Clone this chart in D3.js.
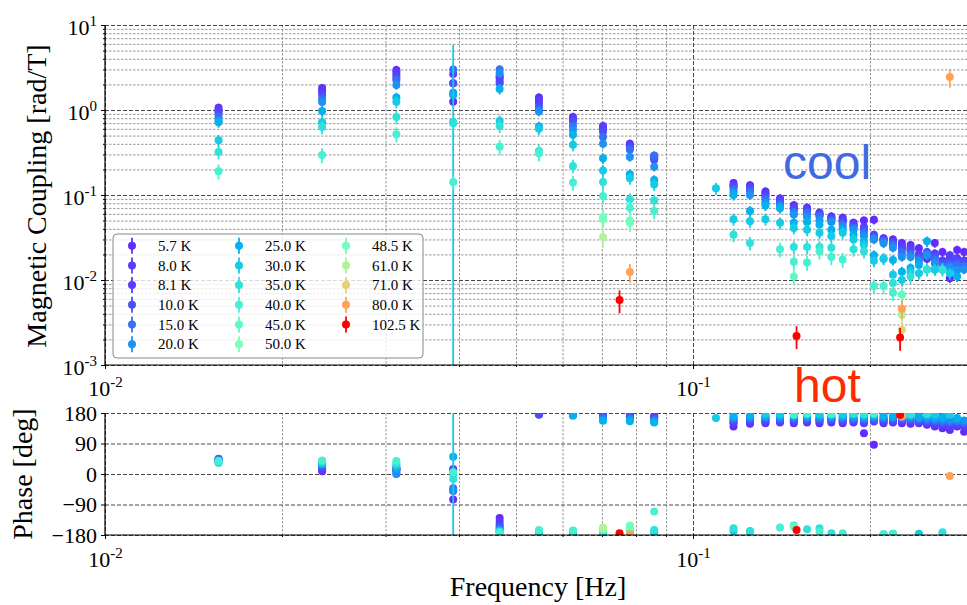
<!DOCTYPE html>
<html>
<head>
<meta charset="utf-8">
<script src="https://cdn.jsdelivr.net/npm/d3@7"></script>
<style>
  body { margin: 0; background: #fff; }
  svg { display: block; }
</style>
</head>
<body>
<svg id="chart" width="967" height="605"></svg>
<script>

// temperatures in legend order
var tempLabels = ["5.7 K", "8.0 K", "8.1 K", "10.0 K", "15.0 K", "20.0 K", "25.0 K", "30.0 K", "35.0 K",
  "40.0 K", "45.0 K", "50.0 K", "48.5 K", "61.0 K", "71.0 K", "80.0 K", "102.5 K"];
var tempValues = [5.7, 8.0, 8.1, 10.0, 15.0, 20.0, 25.0, 30.0, 35.0, 40.0, 45.0, 50.0, 48.5, 61.0, 71.0, 80.0, 102.5];

// relative error of the coupling and phase error [deg] per temperature
var magErrFrac = [0.12, 0.12, 0.12, 0.12, 0.12, 0.12, 0.14, 0.16, 0.18, 0.2, 0.22, 0.22, 0.22, 0.25, 0.25, 0.25, 0.3];
var phaseErr = [5, 5, 5, 5, 5, 5, 5, 6, 6, 7, 7, 7, 7, 8, 8, 8, 8];

// measured frequencies [Hz]
var freqs = [0.0156, 0.0234, 0.0313, 0.0391, 0.0469, 0.0547, 0.0625, 0.0703, 0.0781, 0.0859,
  0.1094, 0.1172, 0.125, 0.1328, 0.1406, 0.1484, 0.1563, 0.1641, 0.1719, 0.1797, 0.1875, 0.1953,
  0.2031, 0.2109, 0.2188, 0.2266, 0.2344, 0.2422, 0.25, 0.2578, 0.2656, 0.2734, 0.2813, 0.2891];

// magnetic coupling [rad/T]
var mag5_7 = [1.06, 1.81, 2.96, 1.25, 2.5, 1.40, 0.83, 0.60, 0.40, 0.27, null, 0.138, 0.13, 0.11, 0.091, 0.076, 0.071,
  0.062, 0.056, 0.054, 0.047, 0.050, 0.051, 0.031, 0.030, 0.0272, 0.0258, 0.0237, 0.0178, 0.0272, 0.0214, 0.0105, 0.0226, 0.0214];
var mag8_0 = [1.0, 1.7, 2.8, 2.07, 2.38, 1.30, 0.80, 0.62, 0.38, 0.28, null, 0.13, 0.125, 0.105, 0.088, 0.072, 0.068,
  0.060, 0.054, 0.051, 0.045, 0.042, 0.034, 0.030, 0.028, 0.025, 0.024, 0.020, 0.019, 0.0205, 0.017, 0.0196, 0.018, 0.017];
var mag8_1 = [0.97, 1.65, 2.58, 2.65, 2.2, 1.2, 0.78, 0.65, 0.37, 0.29, null, 0.128, 0.122, 0.10, 0.086, 0.070, 0.066,
  0.059, 0.053, 0.050, 0.044, 0.040, 0.033, 0.030, 0.027, 0.024, 0.023, 0.020, 0.020, 0.020, 0.016, 0.018, 0.017, 0.016];
var mag10 = [0.92, 1.5, 2.4, 2.07, 2.07, 1.09, 0.73, 0.555, 0.36, 0.26, null, 0.125, 0.12, 0.095, 0.083, 0.068, 0.064,
  0.058, 0.052, 0.048, 0.043, 0.039, 0.032, 0.029, 0.027, 0.023, 0.022, 0.0187, 0.0214, 0.019, 0.0157, 0.016, 0.0165, 0.016];
var mag15 = [0.83, 1.35, 2.25, 3.0, 3.0, 1.0, 0.65, 0.48, 0.34, 0.29, null, 0.115, 0.11, 0.088, 0.078, 0.063, 0.061,
  0.056, 0.050, 0.045, 0.041, 0.036, 0.031, 0.0285, 0.0258, 0.021, 0.020, 0.0175, 0.020, 0.0175, 0.0145, 0.015, 0.015, 0.0145];
var mag20 = [0.75, 1.24, 1.97, 1.6, 2.7, 0.96, 0.58, 0.40, 0.28, 0.215, null, 0.107, 0.10, 0.081, 0.073, 0.059, 0.055,
  0.050, 0.048, 0.042, 0.039, 0.033, 0.030, 0.027, 0.024, 0.0187, 0.0187, 0.0164, 0.0195, 0.0157, 0.0133, 0.014, 0.013, 0.0133];
var mag25 = [0.72, 0.97, 1.40, 1.5, 1.77, 0.64, 0.51, 0.27, 0.176, 0.15, null, 0.10, 0.065, 0.075, 0.070, 0.047, 0.048,
  0.045, 0.039, 0.038, 0.034, 0.0285, 0.0196, 0.0178, 0.0172, 0.0125, 0.0138, 0.015, 0.0285, 0.0133, 0.0133, null, 0.011, null];
var mag30 = [0.44, 0.72, 1.25, 0.72, 0.74, 0.60, 0.39, 0.194, 0.157, 0.133, 0.12, 0.052, 0.049, 0.052, 0.047, 0.041, 0.039,
  0.036, 0.033, 0.036, 0.030, 0.026, 0.0168, 0.0178, 0.0115, 0.010, 0.0125, 0.012, 0.0133, 0.0133, null, 0.012, null, null];
var mag35 = [0.32, 0.63, 0.83, 0.70, 0.65, 0.33, 0.22, 0.142, 0.089, 0.086, null, 0.034, 0.0272, null, null, 0.0245, 0.0245,
  0.0245, 0.0239, null, 0.023, 0.0218, null, null, 0.0092, null, 0.011, null, 0.0133, null, 0.0133, null, null, null];
var mag40 = [0.19, 0.296, 0.52, 0.142, 0.37, 0.31, 0.14, 0.097, 0.071, 0.065, null, null, null, null, 0.023, 0.0164, 0.0161,
  0.0218, 0.0187, 0.0174, null, null, 0.0085, 0.0085, 0.0071, null, null, null, null, null, null, null, null, null];

// phase [deg]
var phase5_7 = [40, 8, 18, -75, -130, 178, 178, 175, 175, 172, null, 140, 148, 150, 152, 150, 152,
  150, 152, 150, 152, 120, 86, 150, 152, 150, 148, 150, 145, 140, 135, 130, 140, 125];
var phase8_0 = [38, 12, 15, -50, -140, 177, 176, 172, 172, 170, null, 150, 152, 155, 155, 156, 156,
  156, 158, 156, 155, 150, 155, 155, 156, 158, 155, 152, 150, 148, 145, 140, 145, 140];
var phase8_1 = [42, 15, 12, 15, -150, 176, 177, 170, 170, 168, null, 153, 155, 158, 158, 158, 159,
  158, 160, 158, 158, 155, 158, 158, 158, 160, 158, 155, 153, 150, 148, 145, 148, 143];
var phase10 = [44, 22, 10, 12, -155, 175, 175, 168, 168, 165, null, 158, 160, 160, 160, 160, 160,
  160, 160, 160, 160, 158, 160, 160, 160, 160, 160, 158, 155, 152, 150, 150, 150, 148];
var phase15 = [45, 25, 0, -42, -160, -178, -179, 165, 165, 160, null, 163, 165, 165, 164, 165, 165,
  164, 165, 165, 164, 163, 165, 164, 165, 165, 164, 162, 160, 158, 156, 155, 156, 152];
var phase20 = [40, 28, 2, -48, -165, -176, -177, 160, 160, 155, null, 167, 168, 168, 168, 169, 168,
  168, 168, 168, 168, 166, 168, 168, 167, 168, 168, 166, 165, 163, 162, 160, 160, 158];
var phase25 = [36, 30, 18, 51, -168, -172, 172, 157, 156, 152, null, 172, 172, 172, 173, 172, 172,
  173, 172, 172, 173, 170, 172, 172, 172, 172, 172, 170, 170, 168, 168, null, 165, null];
var phase30 = [33, 32, 25, 0, -172, -170, -170, -175, -178, -172, 165, -168, -170, 178, 176, 178, 176,
  177, 178, 176, 177, 175, 176, -178, -177, 178, 176, -176, 177, 176, null, 175, null, null];
var phase35 = [36, 38, 32, -15, -170, -168, -168, -172, -170, -165, null, -160, -168, null, null, -152, -163,
  -160, -175, null, 178, 176, null, null, -176, null, 175, null, 177, null, -172, null, null, null];
var phase40 = [38, 40, 38, 5, -174, -165, -167, -168, -162, -111, null, null, null, null, -158, 175, 178,
  -170, 176, -175, null, null, 178, -178, -176, null, null, null, null, null, null, null, null, null];

// warmer runs were only measured at a few frequencies
var freqs45 = [0.0703, 0.0781, 0.1484, 0.2266];
var mag45 = [0.053, 0.049, 0.011, 0.0067];
var phase45 = [-162, -155, -155, 176];
var freqs50 = [0.0703, 0.0781];
var mag50 = [0.052, 0.050];
var phase50 = [-160, -152];
var freqs48_5 = [0.0703, 0.0781];
var mag48_5 = [0.055, 0.047];
var phase48_5 = [-163, -158];
var freqs61 = [0.0703, 0.2266];
var mag61 = [0.032, 0.0039];
var phase61 = [-158, 178];
var freqs71 = [0.2266];
var mag71 = [0.0026];
var phase71 = [172];
var freqs80 = [0.0781, 0.2266, 0.2734];
var mag80 = [0.0124, 0.0046, 2.44];
var phase80 = [-178, 170, -6];
var freqs102_5 = [0.075, 0.15, 0.225];
var mag102_5 = [0.0058, 0.0022, 0.0021];
var phase102_5 = [-175, -165, 174];

// one very noisy point (30 K at 0.039 Hz)
var noisyFreq = 0.0391, noisyTemp = "30.0 K", noisyMagErr = 5.1, noisyPhaseErr = 400;

var magTicks = [1e-3, 1e-2, 1e-1, 1, 10];
var phaseTicks = [-180, -90, 0, 90, 180];
var freqTicks = [0.01, 0.1];

// matplotlib "rainbow" colormap
function rainbow(t) {
  var r = Math.min(1, Math.abs(2 * t - 0.5)),
    g = Math.sin(Math.PI * t),
    b = Math.cos(Math.PI * t / 2);
  return d3.rgb(r * 255, g * 255, Math.max(0, b) * 255).formatHex();
}

var allFreqs = [freqs, freqs, freqs, freqs, freqs, freqs, freqs, freqs, freqs, freqs,
  freqs45, freqs50, freqs48_5, freqs61, freqs71, freqs80, freqs102_5];
var allMags = [mag5_7, mag8_0, mag8_1, mag10, mag15, mag20, mag25, mag30, mag35, mag40,
  mag45, mag50, mag48_5, mag61, mag71, mag80, mag102_5];
var allPhases = [phase5_7, phase8_0, phase8_1, phase10, phase15, phase20, phase25, phase30, phase35, phase40,
  phase45, phase50, phase48_5, phase61, phase71, phase80, phase102_5];

var tMax = d3.max(tempValues);
var series = tempLabels.map(function(label, i) {
  var pts = [];
  allFreqs[i].forEach(function(f, j) {
    var m = allMags[i][j], p = allPhases[i][j];
    if (m == null) return;
    var noisy = (label === noisyTemp && f === noisyFreq);
    pts.push({
      f: f, mag: m, phase: p,
      magErr: noisy ? noisyMagErr : m * magErrFrac[i],
      phaseErr: noisy ? noisyPhaseErr : phaseErr[i]
    });
  });
  return {label: label, color: rainbow(tempValues[i] / tMax), points: pts};
});

// layout
var left = 105, right = 967;
var magTop = 25, magBottom = 365;
var phTop = 413, phBottom = 535;
var serif = "'Liberation Serif', 'Times New Roman', Times, serif";
var dotR = 4;

var x = d3.scaleLog().domain([0.01, 0.2924]).range([left, right]);
var yMag = d3.scaleLog().domain([1e-3, 10]).range([magBottom, magTop]);
var yPhase = d3.scaleLinear().domain([-180, 180]).range([phBottom, phTop]);

var svg = d3.select("#chart");

// minor tick positions
var xMinor = [];
[0.01, 0.1].forEach(function(d) {
  for (var k = 2; k <= 9; k++) if (d * k < 0.2924) xMinor.push(d * k);
});
var yMinor = [];
[1e-3, 1e-2, 1e-1, 1].forEach(function(d) {
  for (var k = 2; k <= 9; k++) yMinor.push(d * k);
});

svg.append("defs").call(function(defs) {
  defs.append("clipPath").attr("id", "clipMag").append("rect")
    .attr("x", left).attr("y", magTop).attr("width", right - left).attr("height", magBottom - magTop);
  defs.append("clipPath").attr("id", "clipPh").append("rect")
    .attr("x", left).attr("y", phTop).attr("width", right - left).attr("height", phBottom - phTop);
});

// draws dashed grid lines with an axis generator
function grid(axis, values, pos, size, minor) {
  var g = svg.append("g")
    .attr("transform", pos)
    .call(axis.tickValues(values).tickSize(size).tickFormat(""));
  g.select(".domain").remove();
  g.selectAll("line")
    .attr("stroke", minor ? "#8c8c8c" : "#333")
    .attr("stroke-width", 0.9)
    .attr("stroke-dasharray", minor ? "2.5,1.5" : "4,2");
}

// grid of the coupling panel
grid(d3.axisLeft(yMag), yMinor, "translate(" + left + ",0)", -(right - left), true);
grid(d3.axisBottom(x), xMinor, "translate(0," + magTop + ")", magBottom - magTop, true);
grid(d3.axisLeft(yMag), magTicks, "translate(" + left + ",0)", -(right - left), false);
grid(d3.axisBottom(x), freqTicks, "translate(0," + magTop + ")", magBottom - magTop, false);

// grid of the phase panel
grid(d3.axisBottom(x), xMinor, "translate(0," + phTop + ")", phBottom - phTop, true);
grid(d3.axisLeft(yPhase), phaseTicks, "translate(" + left + ",0)", -(right - left), false);
grid(d3.axisBottom(x), freqTicks, "translate(0," + phTop + ")", phBottom - phTop, false);

// data
var magLayer = svg.append("g").attr("clip-path", "url(#clipMag)");
var phLayer = svg.append("g").attr("clip-path", "url(#clipPh)");

series.forEach(function(s) {
  var gm = magLayer.append("g");
  gm.selectAll("line")
    .data(s.points)
    .enter().append("line")
      .attr("x1", function(d) { return x(d.f); })
      .attr("x2", function(d) { return x(d.f); })
      .attr("y1", function(d) { return yMag(d.mag + d.magErr); })
      .attr("y2", function(d) { return d.mag - d.magErr > 0 ? yMag(d.mag - d.magErr) : magBottom + 5; })
      .attr("stroke", s.color)
      .attr("stroke-width", 1.8);
  gm.selectAll("circle")
    .data(s.points)
    .enter().append("circle")
      .attr("cx", function(d) { return x(d.f); })
      .attr("cy", function(d) { return yMag(d.mag); })
      .attr("r", dotR)
      .attr("fill", s.color);

  var gp = phLayer.append("g");
  gp.selectAll("line")
    .data(s.points)
    .enter().append("line")
      .attr("x1", function(d) { return x(d.f); })
      .attr("x2", function(d) { return x(d.f); })
      .attr("y1", function(d) { return yPhase(d.phase + d.phaseErr); })
      .attr("y2", function(d) { return yPhase(d.phase - d.phaseErr); })
      .attr("stroke", s.color)
      .attr("stroke-width", 1.8);
  gp.selectAll("circle")
    .data(s.points)
    .enter().append("circle")
      .attr("cx", function(d) { return x(d.f); })
      .attr("cy", function(d) { return yPhase(d.phase); })
      .attr("r", dotR)
      .attr("fill", s.color);
});

// axes with superscript tick labels
function powerLabels(sel) {
  sel.selectAll(".tick text").each(function(d) {
    var t = d3.select(this);
    t.text("10");
    t.append("tspan").attr("dy", -9).attr("font-size", 15).text(Math.round(Math.log10(d)));
  });
}

function styleAxis(g) {
  g.attr("font-family", serif).attr("font-size", 22);
  g.selectAll(".tick text").attr("fill", "#000");
  g.selectAll("line").attr("stroke", "#000");
  g.select(".domain").remove();
}

function minorTicks(axis, values, pos) {
  var g = svg.append("g").attr("transform", pos)
    .call(axis.tickValues(values).tickSize(2).tickFormat(""));
  g.select(".domain").remove();
  g.selectAll("line").attr("stroke", "#000");
}

minorTicks(d3.axisLeft(yMag), yMinor, "translate(" + left + ",0)");
minorTicks(d3.axisBottom(x), xMinor, "translate(0," + magBottom + ")");
minorTicks(d3.axisBottom(x), xMinor, "translate(0," + phBottom + ")");

var yMagAxis = svg.append("g")
  .attr("transform", "translate(" + left + ",0)")
  .call(d3.axisLeft(yMag).tickValues(magTicks).tickSize(4).tickPadding(4));
styleAxis(yMagAxis);
powerLabels(yMagAxis);
yMagAxis.selectAll(".tick text").attr("dy", "0.42em");

var xMagAxis = svg.append("g")
  .attr("transform", "translate(0," + magBottom + ")")
  .call(d3.axisBottom(x).tickValues(freqTicks).tickSize(4).tickPadding(11));
styleAxis(xMagAxis);
powerLabels(xMagAxis);

var yPhAxis = svg.append("g")
  .attr("transform", "translate(" + left + ",0)")
  .call(d3.axisLeft(yPhase).tickValues(phaseTicks).tickSize(4).tickPadding(4)
    .tickFormat(function(d) { return d < 0 ? "\u2212" + Math.abs(d) : d; }));
styleAxis(yPhAxis);
yPhAxis.selectAll(".tick text").attr("dy", "0.34em");

var xPhAxis = svg.append("g")
  .attr("transform", "translate(0," + phBottom + ")")
  .call(d3.axisBottom(x).tickValues(freqTicks).tickSize(4).tickPadding(12));
styleAxis(xPhAxis);
powerLabels(xPhAxis);

// spines
svg.append("line").attr("x1", left).attr("x2", left).attr("y1", magTop).attr("y2", magBottom)
  .attr("stroke", "#000").attr("stroke-width", 1.2);
svg.append("line").attr("x1", left).attr("x2", right).attr("y1", magBottom).attr("y2", magBottom)
  .attr("stroke", "#000").attr("stroke-width", 1.2);
svg.append("line").attr("x1", left).attr("x2", left).attr("y1", phTop).attr("y2", phBottom)
  .attr("stroke", "#000").attr("stroke-width", 1.2);
svg.append("line").attr("x1", left).attr("x2", right).attr("y1", phBottom).attr("y2", phBottom)
  .attr("stroke", "#000").attr("stroke-width", 1.2);

// axis titles
svg.append("text")
  .attr("transform", "translate(46,196) rotate(-90)")
  .attr("text-anchor", "middle")
  .attr("font-family", serif).attr("font-size", 28)
  .text("Magnetic Coupling [rad/T]");
svg.append("text")
  .attr("transform", "translate(32,474) rotate(-90)")
  .attr("text-anchor", "middle")
  .attr("font-family", serif).attr("font-size", 28)
  .text("Phase [deg]");
svg.append("text")
  .attr("x", 538).attr("y", 596)
  .attr("text-anchor", "middle")
  .attr("font-family", serif).attr("font-size", 28)
  .text("Frequency [Hz]");

// annotations
svg.append("text")
  .attr("x", 783).attr("y", 179)
  .attr("font-family", "'Liberation Sans', Arial, sans-serif").attr("font-size", 48)
  .attr("fill", "#4169e1")
  .text("cool");
svg.append("text")
  .attr("x", 794).attr("y", 402)
  .attr("font-family", "'Liberation Sans', Arial, sans-serif").attr("font-size", 48)
  .attr("fill", "#ff2a00")
  .text("hot");

// legend
var legend = svg.append("g");
legend.append("rect")
  .attr("x", 113).attr("y", 234).attr("width", 310).attr("height", 124).attr("rx", 4)
  .attr("fill", "#fff").attr("fill-opacity", 0.8)
  .attr("stroke", "#888").attr("stroke-width", 1);

var colX = [132, 239, 346];
var entries = legend.selectAll(".entry")
  .data(series)
  .enter().append("g")
    .attr("class", "entry")
    .attr("transform", function(d, i) {
      return "translate(" + colX[Math.floor(i / 6)] + "," + (245.7 + (i % 6) * 19.7) + ")";
    });
entries.append("line")
  .attr("y1", -8).attr("y2", 8)
  .attr("stroke", function(d) { return d.color; })
  .attr("stroke-width", 1.8);
entries.append("circle")
  .attr("r", dotR)
  .attr("fill", function(d) { return d.color; });
entries.append("text")
  .attr("x", 26).attr("dy", "0.35em")
  .attr("font-family", serif).attr("font-size", 15)
  .text(function(d) { return d.label; });

</script>
</body>
</html>
